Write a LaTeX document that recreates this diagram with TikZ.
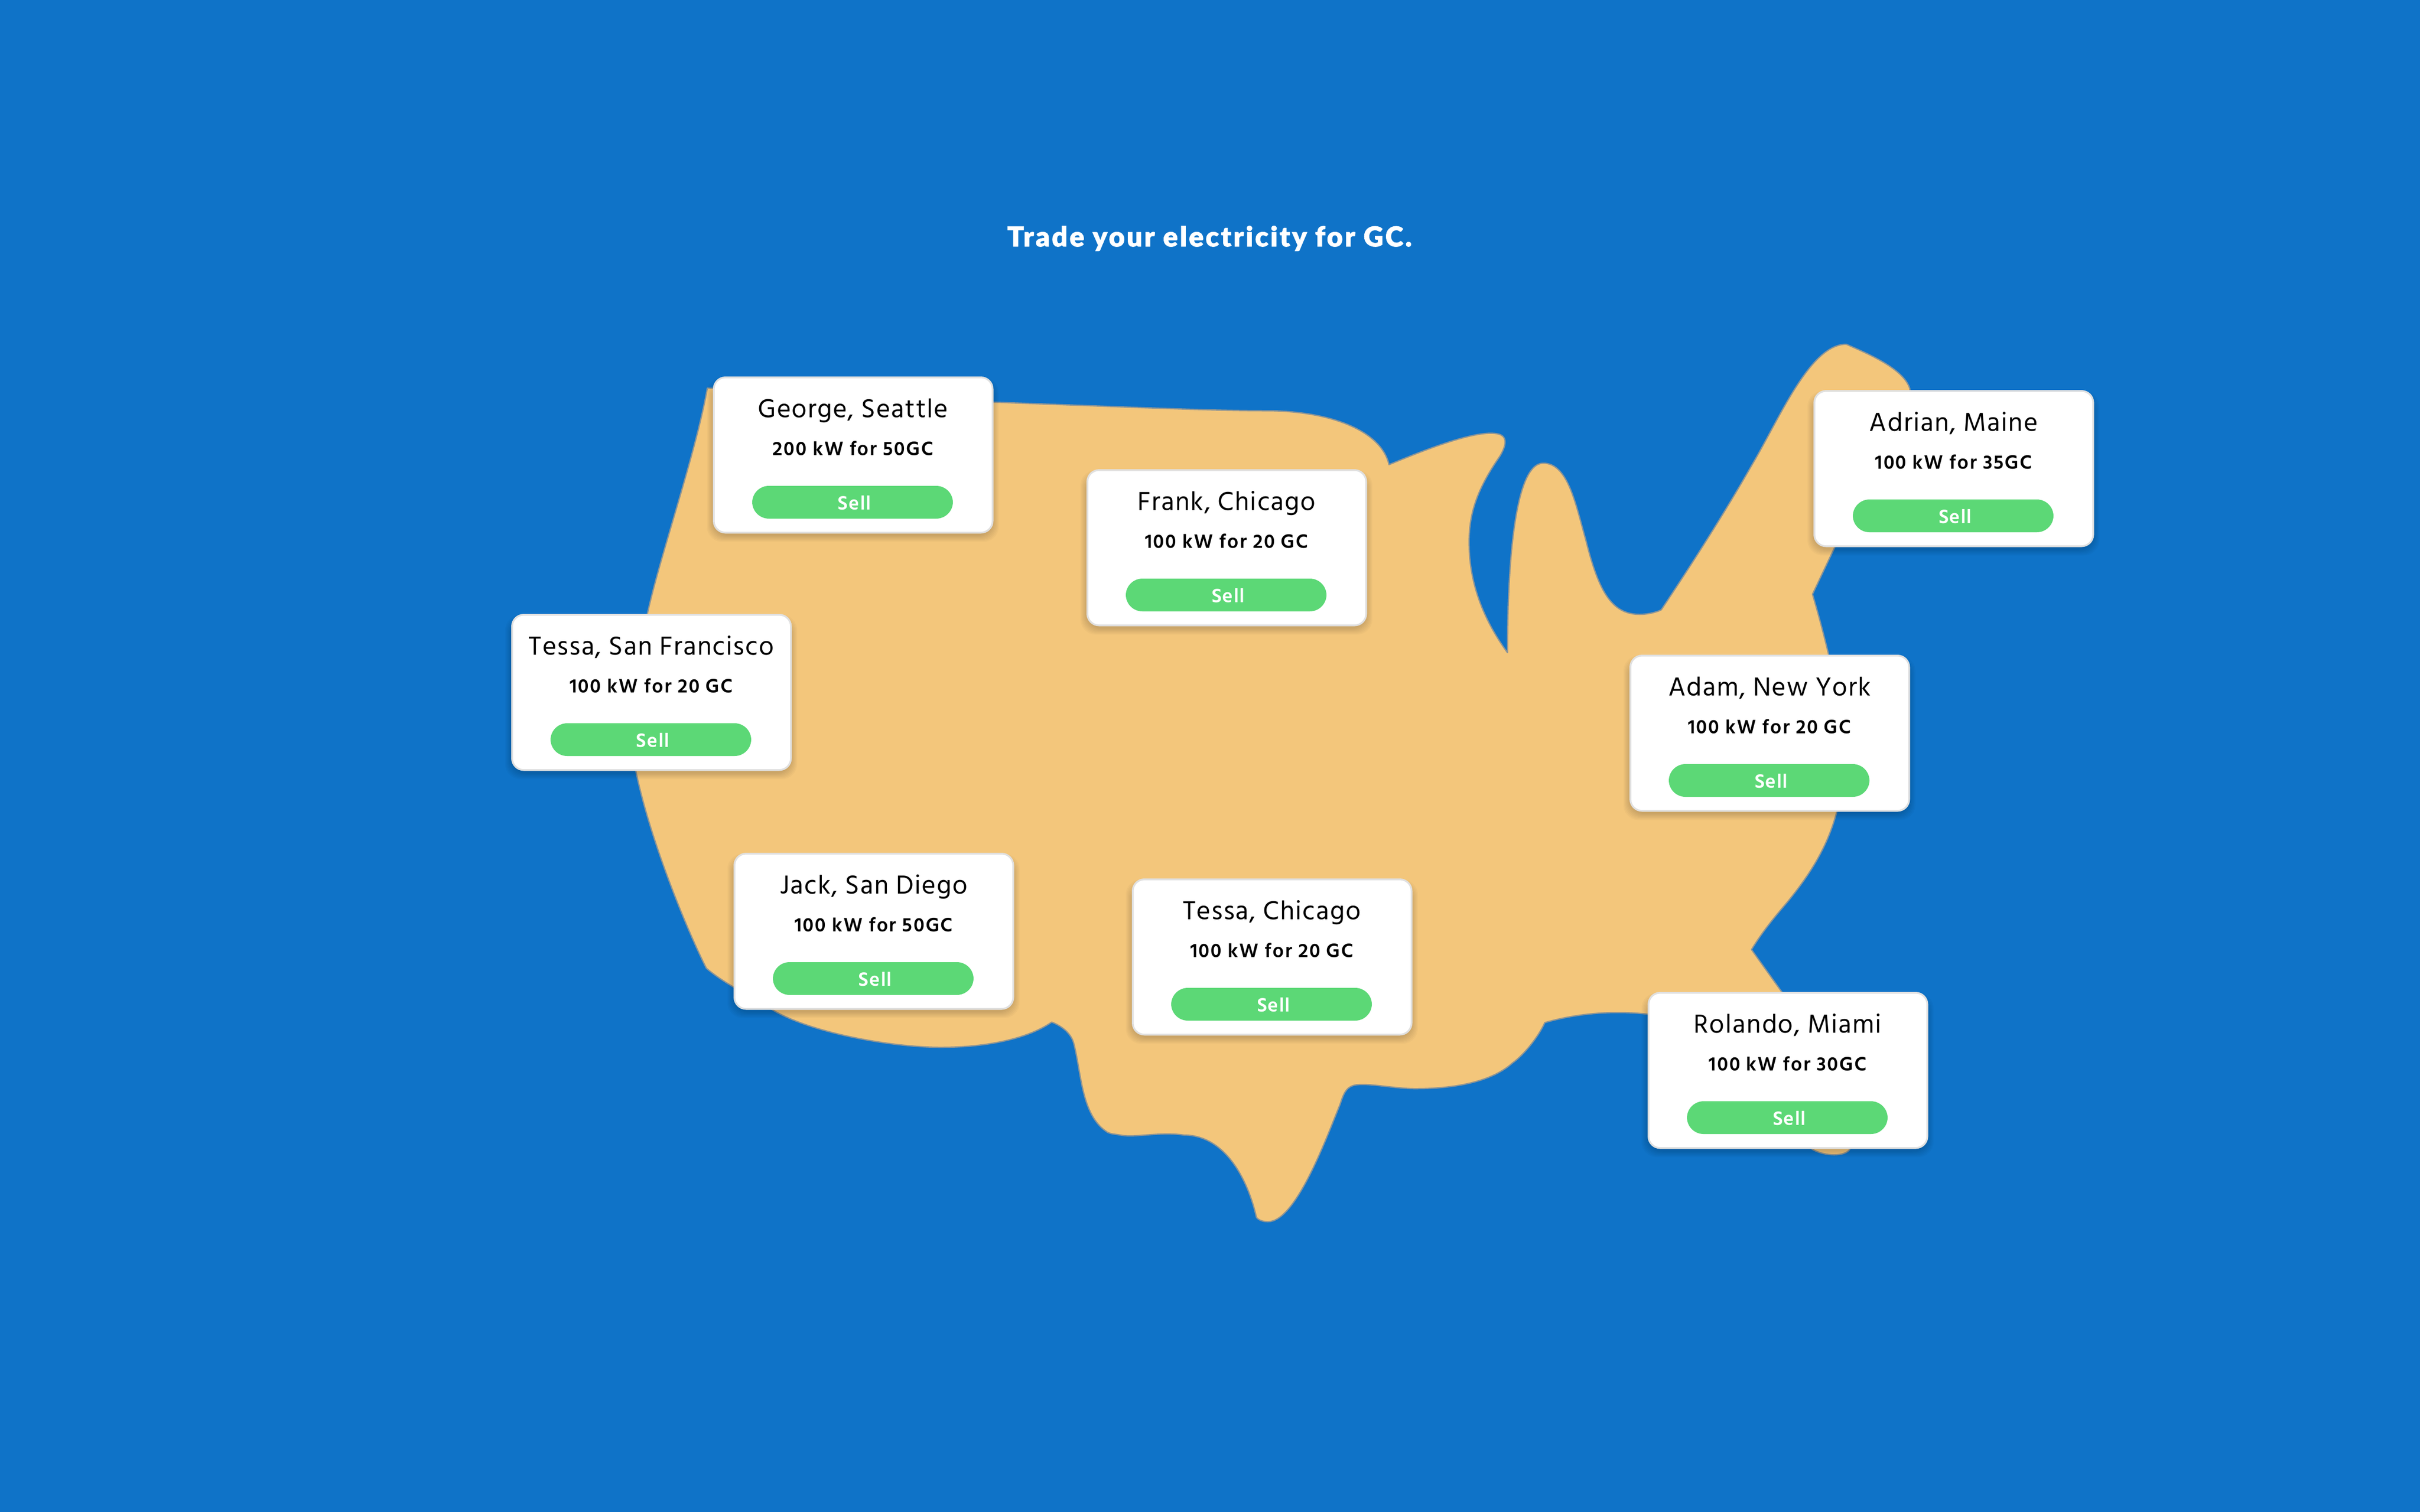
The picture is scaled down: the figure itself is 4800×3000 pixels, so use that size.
\documentclass[tikz,border=0pt]{standalone}
\usepackage{fontspec}
\setmainfont{Hind Madurai}[LetterSpace=3.5]
\newfontfamily\titlefont{Lato Black}[LetterSpace=7,FakeBold=1.4]
\definecolor{bgblue}{RGB}{15,115,200}
\definecolor{mapfill}{RGB}{243,198,123}
\definecolor{mapedge}{RGB}{140,148,150}
\definecolor{btn}{RGB}{92,216,118}
\definecolor{cardedge}{RGB}{224,224,224}
\tikzset{
  cardbox/.style={draw=cardedge,line width=.7pt,fill=white,rounded corners=4.6pt,minimum width=110.6pt,minimum height=61.6pt,inner sep=0pt,anchor=north west},
  btnbox/.style={fill=btn,rounded corners=6.6pt,minimum width=79.6pt,minimum height=13pt,inner sep=0pt,anchor=north west},
  nametext/.style={anchor=base,inner sep=0pt,font=\fontsize{10.6}{12}\selectfont,text=black},
  detailtext/.style={anchor=base,inner sep=0pt,font=\fontsize{7.9}{9}\selectfont\bfseries\addfontfeatures{LetterSpace=6},text=black},
  selltext/.style={anchor=base,inner sep=0pt,font=\fontsize{7.9}{9}\selectfont\bfseries,text=white},
  cardshadow/.style={fill=black,opacity=.022,rounded corners=6pt},
}
\newcommand{\card}[5]{%
  \foreach \e in {0,2,4,6,8,10,12}{%
    \fill[cardshadow] (#2-\e,#3+14-\e) rectangle (#2+555+\e,#3+316+\e);}
  \node[cardbox] (#1) at (#2,#3) {};
  \node[nametext] (#1name) at (#2+278,#3+81) {#4};
  \node[detailtext] (#1detail) at (#2+278,#3+156) {#5};
  \node[btnbox] (#1btn) at (#2+77,#3+216) {};
  \node[selltext] (#1sell) at (#2+281,#3+264) {Sell};
}
\begin{document}
\begin{tikzpicture}[x=.2pt,y=-.2pt]
\useasboundingbox (0,0) rectangle (4800,3000);
\fill[bgblue] (0,0) rectangle (4800,3000);
\node[anchor=base,inner sep=0pt,font=\fontsize{10.9}{12}\selectfont\titlefont,text=white] (title) at (2399,489) {Trade your electricity for GC.};
\draw[fill=mapfill,draw=mapedge,line width=.5pt,line join=round]
 (1403,770) -- (1971,798)
 .. controls (2200,806) and (2400,815) .. (2510,815)
 .. controls (2640,815) and (2740,855) .. (2755,922)
 .. controls (2820,895) and (2920,855) .. (2965,860)
 .. controls (2990,862) and (2990,880) .. (2975,905)
 .. controls (2930,970) and (2912,1020) .. (2914,1085)
 .. controls (2916,1170) and (2950,1240) .. (2990,1295)
 .. controls (2990,1150) and (3000,919) .. (3061,919)
 .. controls (3110,919) and (3125,1000) .. (3145,1070)
 .. controls (3170,1170) and (3195,1219) .. (3252,1219)
 .. controls (3268,1219) and (3285,1215) .. (3295,1210)
 .. controls (3365,1105) and (3425,1010) .. (3474,924)
 .. controls (3530,830) and (3590,683) .. (3662,683)
 .. controls (3700,700) and (3775,730) .. (3788,771)
 .. controls (3800,850) and (3700,950) .. (3639,1086)
 -- (3595,1179)
 .. controls (3610,1230) and (3620,1270) .. (3627,1299)
 .. controls (3650,1400) and (3660,1520) .. (3643,1611)
 .. controls (3625,1680) and (3590,1735) .. (3545,1790)
 .. controls (3515,1825) and (3495,1850) .. (3474,1884)
 -- (3534,1968)
 .. controls (3580,2040) and (3650,2150) .. (3669,2280)
 .. controls (3660,2295) and (3620,2295) .. (3594,2280)
 .. controls (3560,2200) and (3400,2030) .. (3267,2012)
 .. controls (3200,2005) and (3130,2010) .. (3064,2029)
 .. controls (3050,2060) and (3020,2095) .. (3000,2109)
 .. controls (2960,2145) and (2890,2160) .. (2807,2160)
 .. controls (2770,2160) and (2720,2150) .. (2695,2152)
 .. controls (2670,2153) and (2665,2170) .. (2658,2191)
 .. controls (2630,2260) and (2570,2424) .. (2515,2424)
 .. controls (2497,2424) and (2492,2415) .. (2492,2415)
 .. controls (2475,2340) and (2430,2252) .. (2348,2252)
 .. controls (2300,2245) and (2250,2258) .. (2222,2252)
 .. controls (2210,2250) and (2200,2250) .. (2193,2244)
 .. controls (2145,2210) and (2145,2130) .. (2130,2071)
 .. controls (2125,2050) and (2105,2035) .. (2086,2028)
 .. controls (2040,2060) and (1960,2078) .. (1866,2078)
 .. controls (1770,2078) and (1610,2050) .. (1533,2004)
 .. controls (1480,1972) and (1435,1950) .. (1401,1921)
 .. controls (1365,1850) and (1290,1670) .. (1261,1529)
 .. controls (1255,1430) and (1270,1290) .. (1284,1218)
 .. controls (1310,1100) and (1380,900) .. (1403,770) -- cycle;
\card{george}{1414}{747}{George, Seattle}{200 kW for 50GC}
\card{tessasf}{1014}{1218}{Tessa, San Francisco}{100 kW for 20 GC}
\card{frank}{2155}{931}{Frank, Chicago}{100 kW for 20 GC}
\card{adrian}{3597}{774}{Adrian, Maine}{100 kW for 35GC}
\card{adam}{3232}{1299}{Adam, New York}{100 kW for 20 GC}
\card{jack}{1455}{1692}{Jack, San Diego}{100 kW for 50GC}
\card{tessachi}{2245}{1743}{Tessa, Chicago}{100 kW for 20 GC}
\card{rolando}{3268}{1968}{Rolando, Miami}{100 kW for 30GC}
\end{tikzpicture}
\end{document}
